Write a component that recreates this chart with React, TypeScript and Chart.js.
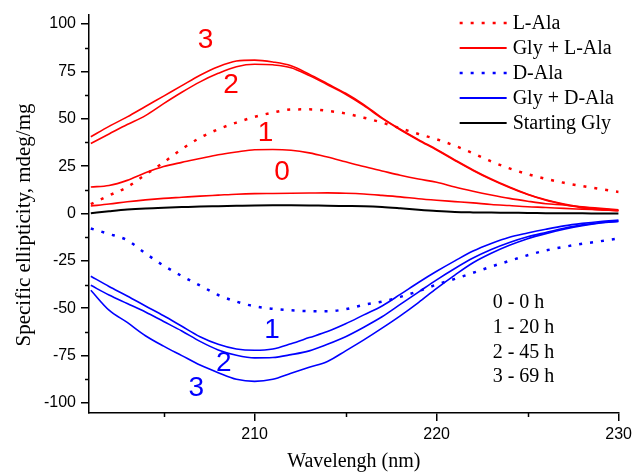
import React, { useEffect, useRef } from 'react';
import { Chart, registerables } from 'chart.js';

Chart.register(...registerables);

// ---------- data ----------
const wavelengths = [201, 202, 203, 204, 205, 206, 207, 208, 209, 210, 211, 212, 213, 214, 215, 216, 217, 218, 219, 220, 221, 222, 223, 224, 225, 226, 227, 228, 229, 230];

const lAla = [5, 9.5, 14, 20.5, 27, 34, 40, 44.5, 48, 51, 53.3, 54.9, 55, 54.2, 52.8, 50.6, 48, 45, 42, 39.2, 35.8, 31.8, 27.5, 23.8, 20.8, 18.3, 16.2, 14.5, 12.9, 11.4];
const glyLAla0 = [4, 5, 6.2, 7.2, 8, 8.6, 9.2, 9.7, 10.2, 10.5, 10.6, 10.7, 10.8, 10.9, 10.7, 10.3, 9.6, 8.8, 7.8, 7, 6.3, 5.6, 4.8, 4.2, 3.6, 3.2, 2.7, 2.3, 1.9, 1.5];
const glyLAla1 = [14, 14.8, 17.5, 21.5, 24.8, 27, 29, 31, 32.5, 33.7, 33.8, 33.4, 32, 29.8, 27.3, 24.8, 22.5, 20.2, 18.2, 16.5, 14, 11.8, 9.8, 8, 6.5, 5.2, 4.5, 3.5, 2.7, 2];
const glyLAla2 = [37, 42, 47, 51.7, 58, 64, 69.5, 74, 77.5, 78.8, 78.5, 77, 72.8, 68, 63, 57, 50.2, 44.2, 38.7, 33.5, 28, 22.7, 17.9, 13.7, 10, 7, 4.8, 3, 2, 1.5];
const glyLAla3 = [40.5, 46, 51, 56.5, 62, 67.5, 73, 77.5, 80.5, 81, 80, 78, 73.5, 68.5, 63.5, 57.5, 50.5, 44.5, 39, 33.8, 28.3, 23, 18.2, 14, 10.2, 7.3, 5, 3.3, 2.3, 1.7];
const startingGly = [0.2, 1.2, 2.1, 2.7, 3.1, 3.4, 3.7, 3.9, 4.1, 4.3, 4.4, 4.4, 4.3, 4.1, 4, 3.9, 3.5, 2.8, 2, 1.3, 0.8, 0.6, 0.5, 0.4, 0.3, 0.2, 0.1, 0.1, 0, 0];
const dAla = [-7.9, -10.8, -14.1, -21, -27.5, -33, -38, -43, -46.5, -49, -50.3, -51.1, -51.5, -51.6, -50.5, -48.2, -46.5, -44, -41, -37.5, -34.5, -31.3, -28, -25, -22, -19.5, -17.6, -16, -14.6, -13.2];
const glyDAla1 = [-33.1, -38.5, -43.5, -48.8, -54, -59.5, -65, -69, -71.5, -72.2, -71.5, -68.7, -65.5, -62.3, -58.2, -53.5, -48.8, -42.7, -36.4, -30.5, -25, -19.8, -15.8, -12.5, -10.3, -8.3, -6.5, -5.2, -4.2, -3.5];
const glyDAla2 = [-37.9, -43, -47.5, -52, -57, -62, -67.5, -72, -74.8, -76.2, -76, -74.5, -72.5, -69, -65, -60, -54.5, -48, -41.5, -35, -29, -23.5, -19, -15.3, -12.3, -10, -7.8, -6, -4.8, -4];
const glyDAla3 = [-40.5, -51, -57.5, -64.5, -70, -75, -80, -84, -87.5, -88.6, -87.5, -84.3, -81.2, -78.1, -72.5, -66.7, -60.5, -54, -47, -39.5, -32.5, -26, -21, -16.8, -13.3, -10.6, -8.3, -6.4, -5, -4.2];

const xMajorTicks = [210, 220, 230];
const xMinorTicks = [205, 215, 225];
const yMajorTicks = [-100, -75, -50, -25, 0, 25, 50, 75, 100];
const yMinorTicks = [-87.5, -62.5, -37.5, -12.5, 12.5, 37.5, 62.5, 87.5];

const xTitle = 'Wavelengh (nm)';
const yTitle = 'Specific ellipticity, mdeg/mg';
const legendLabels = ['L-Ala', 'Gly + L-Ala', 'D-Ala', 'Gly + D-Ala', 'Starting Gly'];
const timeNotes = ['0 - 0 h', '1 - 20 h', '2 - 45 h', '3 - 69 h'];

// curve number labels: text, wavelength, ellipticity
const curveLabelText = ['3', '2', '1', '0', '1', '2', '3'];
const curveLabelX = [207.3, 208.7, 210.6, 211.5, 210.95, 208.3, 206.8];
const curveLabelY = [91.2, 67.8, 42.2, 22, -61.6, -79.2, -92.4];
const curveLabelIsRed = [true, true, true, true, false, false, false];

// ---------- styles ----------
const RED = '#ff0000';
const BLUE = '#0000ff';
const BLACK = '#000000';
const SERIF = '"Liberation Serif", "Times New Roman", serif';
const SANS = '"Liberation Sans", Arial, sans-serif';
const DOT = [3, 8];

const legendStyles = [
  { color: RED, dash: DOT, width: 2.5 },
  { color: RED, dash: [], width: 1.8 },
  { color: BLUE, dash: DOT, width: 2.5 },
  { color: BLUE, dash: [], width: 1.8 },
  { color: BLACK, dash: [], width: 2.2 },
];

function series(values: number[], color: string, dotted: boolean, width = 1.6) {
  return {
    data: values.map((v, i) => ({ x: wavelengths[i], y: v })),
    borderColor: color,
    backgroundColor: color,
    borderWidth: dotted ? 2.5 : width,
    borderDash: dotted ? DOT : [],
    pointRadius: 0,
    cubicInterpolationMode: 'monotone',
    fill: false,
  };
}

const overlayPlugin = {
  id: 'overlay',
  afterDraw(chart: any) {
    const { ctx, chartArea, scales } = chart;
    const x = scales.x;
    const y = scales.y;
    ctx.save();
    // minor ticks
    ctx.strokeStyle = BLACK;
    ctx.lineWidth = 1.5;
    ctx.setLineDash([]);
    for (const v of xMinorTicks) {
      const px = Math.round(x.getPixelForValue(v)) + 0.5;
      ctx.beginPath();
      ctx.moveTo(px, chartArea.bottom);
      ctx.lineTo(px, chartArea.bottom + 4);
      ctx.stroke();
    }
    for (const v of yMinorTicks) {
      const py = Math.round(y.getPixelForValue(v)) + 0.5;
      ctx.beginPath();
      ctx.moveTo(chartArea.left - 4, py);
      ctx.lineTo(chartArea.left, py);
      ctx.stroke();
    }

    // y axis title
    ctx.save();
    ctx.translate(chartArea.left - 65, (chartArea.top + chartArea.bottom) / 2 + 11);
    ctx.rotate(-Math.PI / 2);
    ctx.font = '21px ' + SERIF;
    ctx.fillStyle = BLACK;
    ctx.textAlign = 'center';
    ctx.textBaseline = 'middle';
    ctx.fillText(yTitle, 0, 0);
    ctx.restore();

    // legend
    const lx0 = chartArea.right - 159;
    const ly0 = chartArea.top + 8;
    ctx.font = '20px ' + SERIF;
    ctx.textBaseline = 'middle';
    ctx.textAlign = 'left';
    legendLabels.forEach((label, i) => {
      const st = legendStyles[i];
      const yy = ly0 + i * 25;
      ctx.strokeStyle = st.color;
      ctx.lineWidth = st.width;
      ctx.setLineDash(st.dash);
      ctx.beginPath();
      ctx.moveTo(lx0, yy);
      ctx.lineTo(lx0 + 47, yy);
      ctx.stroke();
      ctx.setLineDash([]);
      ctx.fillStyle = BLACK;
      ctx.fillText(label, lx0 + 53, yy + 1);
    });

    // time notes
    const tx = chartArea.right - 126;
    const ty = chartArea.top + 288;
    ctx.font = '20px ' + SERIF;
    ctx.fillStyle = BLACK;
    timeNotes.forEach((t, i) => {
      ctx.fillText(t, tx, ty + i * 24.7);
    });

    // curve number labels
    ctx.font = '28px ' + SANS;
    ctx.textAlign = 'center';
    ctx.textBaseline = 'middle';
    curveLabelText.forEach((t, i) => {
      ctx.fillStyle = curveLabelIsRed[i] ? RED : BLUE;
      ctx.fillText(t, x.getPixelForValue(curveLabelX[i]), y.getPixelForValue(curveLabelY[i]));
    });
    ctx.restore();
  },
};

export default function App() {
  const ref = useRef<HTMLCanvasElement | null>(null);
  useEffect(() => {
    if (!ref.current) return;
    const chart = new Chart(ref.current, {
      type: 'line',
      data: {
        datasets: [
          series(lAla, RED, true),
          series(glyLAla0, RED, false),
          series(glyLAla1, RED, false),
          series(glyLAla2, RED, false),
          series(glyLAla3, RED, false),
          series(startingGly, BLACK, false, 2),
          series(dAla, BLUE, true),
          series(glyDAla1, BLUE, false),
          series(glyDAla2, BLUE, false),
          series(glyDAla3, BLUE, false),
        ] as any,
      },
      options: {
        responsive: false,
        animation: false,
        devicePixelRatio: 1,
        layout: { padding: { top: 15, right: 14, left: 0, bottom: 0 } },
        plugins: { legend: { display: false }, tooltip: { enabled: false } },
        scales: {
          x: {
            type: 'linear',
            min: 200.9,
            max: 230,
            afterFit: (s: any) => { s.height = 61; },
            afterBuildTicks: (s: any) => { s.ticks = xMajorTicks.map((v) => ({ value: v })); },
            grid: { display: true, drawOnChartArea: false, drawTicks: true, tickLength: 8, color: BLACK, lineWidth: 1.5, tickWidth: 1.5 },
            border: { display: true, color: BLACK, width: 1.5 },
            ticks: { color: BLACK, font: { family: SANS, size: 16 }, padding: 4, maxRotation: 0, autoSkip: false },
            title: { display: true, text: xTitle, color: BLACK, font: { family: SERIF, size: 20 }, padding: { top: 0, bottom: 0 } },
          },
          y: {
            type: 'linear',
            min: -105.3,
            max: 104.8,
            afterFit: (s: any) => { s.width = 89; },
            afterBuildTicks: (s: any) => { s.ticks = yMajorTicks.map((v) => ({ value: v })); },
            grid: { display: true, drawOnChartArea: false, drawTicks: true, tickLength: 8, color: BLACK, lineWidth: 1.5, tickWidth: 1.5 },
            border: { display: true, color: BLACK, width: 1.5 },
            ticks: { color: BLACK, font: { family: SANS, size: 16 }, padding: 5, autoSkip: false },
            title: { display: false },
          },
        },
      },
      plugins: [overlayPlugin],
    });
    return () => chart.destroy();
  }, []);
  return (
    <div style={{ position: 'fixed', left: 0, top: 0, width: 636, height: 474, background: '#fff' }}>
      <canvas ref={ref} width={636} height={474} />
    </div>
  );
}
